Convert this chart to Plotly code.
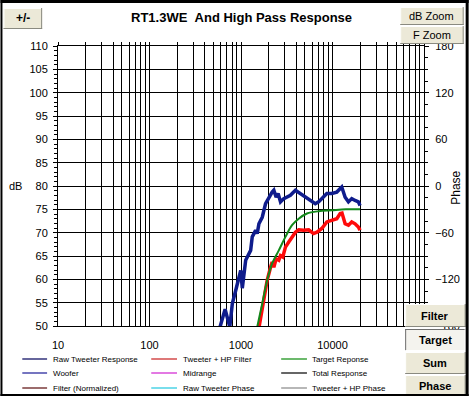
import plotly.graph_objects as go

# ---------------- data ----------------
raw_freq = [586, 670, 754, 804, 875, 951, 993, 1033, 1125, 1275, 1327, 1445, 1504, 1570, 1706,
            1855, 2015, 2190, 2285, 2420, 2544, 2703, 2933, 3186, 3467, 3935, 4458, 5047, 5723,
            6486, 7047, 7650, 8670, 9820, 11140, 12620, 13740, 14930, 16230, 17660, 19180, 20000]
raw_db = [49.6, 53.6, 49.8, 54.8, 57.6, 60.5, 61.9, 58.1, 64.1, 66.2, 69.1, 70.5, 69.8, 71.9, 73.3,
          76.2, 77.6, 78.7, 79.1, 77.6, 78.4, 76.6, 77.3, 77.6, 78.0, 79.1, 78.4, 77.6, 76.9,
          76.2, 76.6, 77.3, 78.4, 78.4, 78.7, 79.8, 77.6, 76.6, 77.3, 76.9, 76.6, 75.8]

hp_freq = [1570, 1706, 1824, 1932, 2103, 2190, 2285, 2420, 2588, 2703, 2862, 3060, 3326, 3613,
           3935, 4270, 4838, 5487, 6210, 6760, 7650, 8670, 9820, 11140, 12130, 12700, 13740,
           14930, 16230, 17660, 19180, 20000]
hp_db = [49.6, 53.6, 56.2, 59.8, 62.6, 63.7, 62.6, 64.4, 64.1, 65.1, 64.8, 66.9, 68.0, 69.1,
         70.1, 70.6, 70.5, 70.6, 69.8, 70.1, 70.9, 72.3, 72.6, 73.0, 74.1, 74.2, 71.9,
         71.6, 72.3, 71.9, 71.2, 70.5]

target_freq = [1504, 1706, 1932, 2190, 2588, 3060, 3613, 4270, 5260, 7047, 9820, 14000, 20000]
target_db = [49.8, 54.8, 59.8, 63.4, 66.2, 69.1, 71.6, 73.0, 74.1, 74.6, 74.8, 75.0, 75.0]

x_tick_labels = ["10", "100", "1000", "10000"]
legend_names = ["Raw Tweeter Response", "Tweeter + HP Filter", "Target Reponse",
                "Woofer", "Midrange", "Total Response",
                "Filter (Normalized)", "Raw Tweeter Phase", "Tweeter + HP Phase"]
legend_colors = ["#00005a", "#c81e1e", "#0a8a0a",
                 "#1a1a96", "#d020d0", "#000000",
                 "#5a0a0a", "#20c8e0", "#888888"]
title_text = "RT1.3WE \u00a0And High Pass Response"

# ---------------- geometry ----------------
W, H = 472, 396
ML, MR, MT, MB = 58, 45, 46, 70
PW = W - ML - MR
PH = H - MT - MB


def px(x):
    return (x - ML) / PW


def py(y):
    return (H - MB - y) / PH


FONT = "Liberation Sans, Arial, sans-serif"

fig = go.Figure()

fig.add_trace(go.Scatter(x=raw_freq, y=raw_db, mode="lines", name=legend_names[0],
                         line=dict(color="#0f1c8c", width=3.5), showlegend=False, hoverinfo="skip"))
fig.add_trace(go.Scatter(x=hp_freq, y=hp_db, mode="lines", name=legend_names[1],
                         line=dict(color="#ff0a0a", width=3.5), showlegend=False, hoverinfo="skip"))
fig.add_trace(go.Scatter(x=target_freq, y=target_db, mode="lines", name=legend_names[2],
                         line=dict(color="#12881a", width=2, shape="spline"), showlegend=False,
                         hoverinfo="skip"))
# carriers for the phase axis and the top tick axis
fig.add_trace(go.Scatter(x=[None], y=[None], yaxis="y2", showlegend=False, hoverinfo="skip"))
fig.add_trace(go.Scatter(x=[None], y=[None], xaxis="x2", showlegend=False, hoverinfo="skip"))

tickvals = []
ticktext = []
for d in range(1, 5):
    for m in range(1, 10):
        tickvals.append(m * 10 ** d)
        ticktext.append(x_tick_labels[d - 1] if m == 1 else "")
tickvals.append(100000)
ticktext.append("")

shapes = []
annotations = []

# title
annotations.append(dict(x=px(243.5), y=py(18), xref="paper", yref="paper", text="<b>" + title_text + "</b>",
                        showarrow=False, font=dict(family=FONT, size=13, color="black"),
                        xanchor="center", yanchor="middle"))
annotations.append(dict(x=px(15), y=py(186), xref="paper", yref="paper", text="dB",
                        showarrow=False, font=dict(family=FONT, size=11, color="black"),
                        xanchor="center", yanchor="middle"))
annotations.append(dict(x=px(459), y=py(188), xref="paper", yref="paper", text="Phase", textangle=-90,
                        showarrow=False, font=dict(family=FONT, size=12, color="black"),
                        xanchor="center", yanchor="middle"))

# legend (drawn manually, 3 columns x 3 rows)
col_line = [(22, 47), (152, 178), (283, 309)]
col_text = [51, 182, 312]
row_y = [359, 373, 388]
for i, (name, col) in enumerate(zip(legend_names, legend_colors)):
    r, c = divmod(i, 3)
    x0, x1 = col_line[c]
    shapes.append(dict(type="line", xref="paper", yref="paper", x0=px(x0), x1=px(x1),
                       y0=py(row_y[r]), y1=py(row_y[r]), line=dict(color=col, width=1.2)))
    annotations.append(dict(x=px(col_text[c]), y=py(row_y[r]), xref="paper", yref="paper", text=name,
                            showarrow=False, font=dict(family=FONT, size=8, color="black"),
                            xanchor="left", yanchor="middle"))


def button(x0, y0, x1, y1, label, size=11, bold=True, pressed=False):
    fill = "#f4f3ee" if pressed else "#ece9d8"
    shapes.append(dict(type="rect", xref="paper", yref="paper", x0=px(x0), x1=px(x1), y0=py(y1), y1=py(y0),
                       fillcolor=fill, line=dict(width=0), layer="above"))
    hi = "#6e6e6e" if pressed else "#ffffff"
    lo = "#ffffff" if pressed else "#8a8a80"
    shapes.append(dict(type="line", xref="paper", yref="paper", x0=px(x0), x1=px(x1), y0=py(y0 + 0.5),
                       y1=py(y0 + 0.5), line=dict(color=hi, width=1), layer="above"))
    shapes.append(dict(type="line", xref="paper", yref="paper", x0=px(x0 + 0.5), x1=px(x0 + 0.5), y0=py(y0),
                       y1=py(y1), line=dict(color=hi, width=1), layer="above"))
    shapes.append(dict(type="line", xref="paper", yref="paper", x0=px(x0), x1=px(x1), y0=py(y1 - 0.5),
                       y1=py(y1 - 0.5), line=dict(color=lo, width=1), layer="above"))
    shapes.append(dict(type="line", xref="paper", yref="paper", x0=px(x1 - 0.5), x1=px(x1 - 0.5), y0=py(y0),
                       y1=py(y1), line=dict(color=lo, width=1), layer="above"))
    txt = "<b>" + label + "</b>" if bold else label
    annotations.append(dict(x=px((x0 + x1) / 2), y=py((y0 + y1) / 2), xref="paper", yref="paper", text=txt,
                            showarrow=False, font=dict(family=FONT, size=size, color="black"),
                            xanchor="center", yanchor="middle"))


button(3, 8, 42, 29, "+/-", size=12)
button(403, 7, 467, 25, "dB Zoom", size=11, bold=False)
button(403, 26, 467, 44, "F Zoom", size=11, bold=False)
button(408, 304, 469, 327, "Filter", size=11)
button(408, 329, 469, 351, "Target", size=11, pressed=True)
button(408, 352, 469, 374, "Sum", size=11)
button(408, 375, 469, 396, "Phase", size=11)

# black frame
for (a, b, c, d) in [(0, 0, W, 3), (0, 0, 2, H), (W - 3, 0, W, H), (0, H - 2, W, H)]:
    shapes.append(dict(type="rect", xref="paper", yref="paper", x0=px(a), x1=px(c), y0=py(d), y1=py(b),
                       fillcolor="black", line=dict(width=0), layer="above"))

fig.update_layout(
    width=W, height=H,
    margin=dict(l=ML, r=MR, t=MT, b=MB, pad=0),
    paper_bgcolor="white", plot_bgcolor="white",
    showlegend=False,
    font=dict(family=FONT, size=11, color="black"),
    xaxis=dict(type="log", range=[1, 5], tickvals=tickvals, ticktext=ticktext,
               showgrid=True, gridcolor="black", gridwidth=1, showline=True, linecolor="black",
               linewidth=1, ticks="", zeroline=False, fixedrange=True, ticklabelstandoff=9,
               tickfont=dict(family=FONT, size=11, color="black")),
    xaxis2=dict(type="log", range=[1, 5], overlaying="x", side="top", tickvals=tickvals,
                showticklabels=False, showgrid=False, showline=True, linecolor="black", linewidth=1,
                ticks="outside", ticklen=3, tickcolor="black", tickwidth=1, zeroline=False,
                fixedrange=True),
    yaxis=dict(range=[50, 110], tick0=50, dtick=5, showgrid=True, gridcolor="black", gridwidth=1,
               showline=True, linecolor="black", linewidth=1, ticks="outside", ticklen=4,
               tickcolor="black", tickwidth=1, zeroline=False, fixedrange=True,
               minor=dict(dtick=1, ticks="outside", ticklen=3, tickcolor="black", showgrid=False),
               tickfont=dict(family=FONT, size=11, color="black"), ticklabelstandoff=3),
    yaxis2=dict(range=[-180, 180], tick0=0, dtick=60, overlaying="y", side="right", showgrid=False,
                showline=True, linecolor="black", linewidth=1, ticks="outside", ticklen=4,
                tickcolor="black", tickwidth=1, zeroline=False, fixedrange=True,
                minor=dict(dtick=15, ticks="outside", ticklen=3, tickcolor="black", showgrid=False),
                tickfont=dict(family=FONT, size=11, color="black"), ticklabelstandoff=4),
    shapes=shapes,
    annotations=annotations,
)

fig.write_html("out.html", config={"displayModeBar": False},
               post_script="document.body.style.margin='0px';document.body.style.padding='0px';")
